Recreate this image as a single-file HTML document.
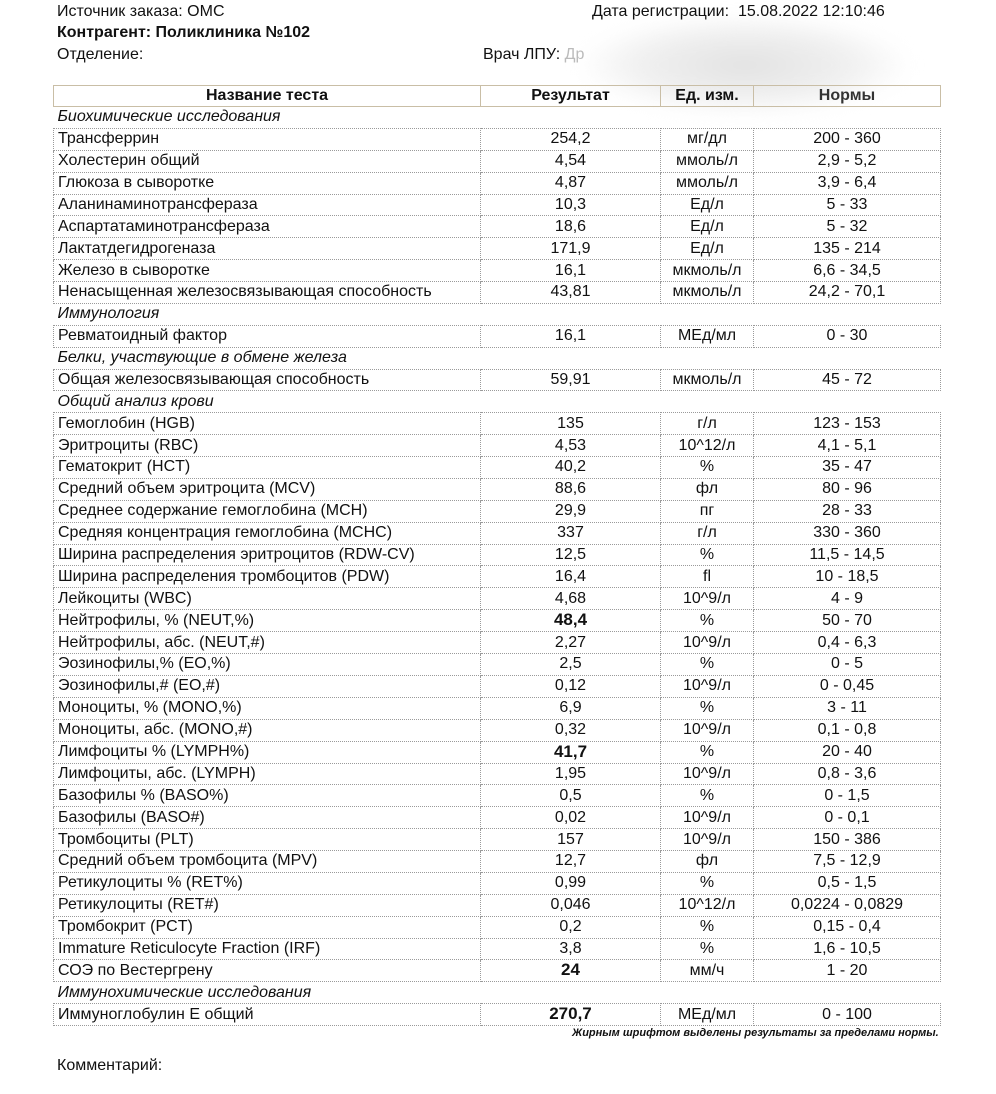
<!DOCTYPE html>
<html><head><meta charset="utf-8"><style>
body{margin:0;width:996px;height:1094px;background:#fff;position:relative;overflow:hidden;font-family:"Liberation Sans","Noto Sans CJK SC",sans-serif;color:#111;font-size:16px}
.t{position:absolute;white-space:nowrap}
table{position:absolute;left:53px;top:85px;width:887px;border-collapse:collapse;table-layout:fixed}
td{height:20.88px;padding:0 4px;border:1px dotted #9a9a9a;line-height:20px;overflow:hidden;white-space:nowrap}
td:nth-child(n+2){text-align:center}
tr.h td{border:1.5px solid #c9bea6;font-weight:bold;height:19px;text-align:center;font-size:16px}
tr.s td{border:none;font-style:italic;text-align:left;border-left:none}
b{font-size:17px}
.blur{position:absolute;left:580px;top:15px;width:330px;height:100px;background:radial-gradient(ellipse at center,#e2e2e2 0%,#f0f0f0 45%,rgba(255,255,255,0) 72%);filter:blur(8px)}
</style></head><body>
<div class="blur"></div>
<div class="t" style="left:57px;top:3px">Источник заказа: ОМС</div>
<div class="t" style="left:57px;top:24px;font-weight:bold">Контрагент: Поликлиника №102</div>
<div class="t" style="left:57px;top:46px">Отделение:</div>
<div class="t" style="left:592px;top:3px">Дата регистрации:&nbsp; 15.08.2022 12:10:46</div>
<div class="t" style="left:483px;top:46px">Врач ЛПУ: <span style="color:#bbb">Др</span></div>
<table>
<colgroup><col style="width:427px"><col style="width:180px"><col style="width:93px"><col style="width:187px"></colgroup>
<tr class="h"><td>Название теста</td><td>Результат</td><td>Ед. изм.</td><td style="color:#333">Нормы</td></tr>
<tr class="s"><td colspan="4">Биохимические исследования</td></tr>
<tr><td>Трансферрин</td><td>254,2</td><td>мг/дл</td><td>200 - 360</td></tr>
<tr><td>Холестерин общий</td><td>4,54</td><td>ммоль/л</td><td>2,9 - 5,2</td></tr>
<tr><td>Глюкоза в сыворотке</td><td>4,87</td><td>ммоль/л</td><td>3,9 - 6,4</td></tr>
<tr><td>Аланинаминотрансфераза</td><td>10,3</td><td>Ед/л</td><td>5 - 33</td></tr>
<tr><td>Аспартатаминотрансфераза</td><td>18,6</td><td>Ед/л</td><td>5 - 32</td></tr>
<tr><td>Лактатдегидрогеназа</td><td>171,9</td><td>Ед/л</td><td>135 - 214</td></tr>
<tr><td>Железо в сыворотке</td><td>16,1</td><td>мкмоль/л</td><td>6,6 - 34,5</td></tr>
<tr><td>Ненасыщенная железосвязывающая способность</td><td>43,81</td><td>мкмоль/л</td><td>24,2 - 70,1</td></tr>
<tr class="s"><td colspan="4">Иммунология</td></tr>
<tr><td>Ревматоидный фактор</td><td>16,1</td><td>МЕд/мл</td><td>0 - 30</td></tr>
<tr class="s"><td colspan="4">Белки, участвующие в обмене железа</td></tr>
<tr><td>Общая железосвязывающая способность</td><td>59,91</td><td>мкмоль/л</td><td>45 - 72</td></tr>
<tr class="s"><td colspan="4">Общий анализ крови</td></tr>
<tr><td>Гемоглобин (HGB)</td><td>135</td><td>г/л</td><td>123 - 153</td></tr>
<tr><td>Эритроциты (RBC)</td><td>4,53</td><td>10^12/л</td><td>4,1 - 5,1</td></tr>
<tr><td>Гематокрит (HCT)</td><td>40,2</td><td>%</td><td>35 - 47</td></tr>
<tr><td>Средний объем эритроцита (MCV)</td><td>88,6</td><td>фл</td><td>80 - 96</td></tr>
<tr><td>Среднее содержание гемоглобина (MCH)</td><td>29,9</td><td>пг</td><td>28 - 33</td></tr>
<tr><td>Средняя концентрация гемоглобина (MCHC)</td><td>337</td><td>г/л</td><td>330 - 360</td></tr>
<tr><td>Ширина распределения эритроцитов (RDW-CV)</td><td>12,5</td><td>%</td><td>11,5 - 14,5</td></tr>
<tr><td>Ширина распределения тромбоцитов (PDW)</td><td>16,4</td><td>fl</td><td>10 - 18,5</td></tr>
<tr><td>Лейкоциты (WBC)</td><td>4,68</td><td>10^9/л</td><td>4 - 9</td></tr>
<tr><td>Нейтрофилы, % (NEUT,%)</td><td><b>48,4</b></td><td>%</td><td>50 - 70</td></tr>
<tr><td>Нейтрофилы, абс. (NEUT,#)</td><td>2,27</td><td>10^9/л</td><td>0,4 - 6,3</td></tr>
<tr><td>Эозинофилы,% (EO,%)</td><td>2,5</td><td>%</td><td>0 - 5</td></tr>
<tr><td>Эозинофилы,# (EO,#)</td><td>0,12</td><td>10^9/л</td><td>0 - 0,45</td></tr>
<tr><td>Моноциты, % (MONO,%)</td><td>6,9</td><td>%</td><td>3 - 11</td></tr>
<tr><td>Моноциты, абс. (MONO,#)</td><td>0,32</td><td>10^9/л</td><td>0,1 - 0,8</td></tr>
<tr><td>Лимфоциты % (LYMPH%)</td><td><b>41,7</b></td><td>%</td><td>20 - 40</td></tr>
<tr><td>Лимфоциты, абс. (LYMPH)</td><td>1,95</td><td>10^9/л</td><td>0,8 - 3,6</td></tr>
<tr><td>Базофилы % (BASO%)</td><td>0,5</td><td>%</td><td>0 - 1,5</td></tr>
<tr><td>Базофилы (BASO#)</td><td>0,02</td><td>10^9/л</td><td>0 - 0,1</td></tr>
<tr><td>Тромбоциты (PLT)</td><td>157</td><td>10^9/л</td><td>150 - 386</td></tr>
<tr><td>Средний объем тромбоцита (MPV)</td><td>12,7</td><td>фл</td><td>7,5 - 12,9</td></tr>
<tr><td>Ретикулоциты % (RET%)</td><td>0,99</td><td>%</td><td>0,5 - 1,5</td></tr>
<tr><td>Ретикулоциты (RET#)</td><td>0,046</td><td>10^12/л</td><td>0,0224 - 0,0829</td></tr>
<tr><td>Тромбокрит (PCT)</td><td>0,2</td><td>%</td><td>0,15 - 0,4</td></tr>
<tr><td>Immature Reticulocyte Fraction (IRF)</td><td>3,8</td><td>%</td><td>1,6 - 10,5</td></tr>
<tr><td>СОЭ по Вестергрену</td><td><b>24</b></td><td>мм/ч</td><td>1 - 20</td></tr>
<tr class="s"><td colspan="4">Иммунохимические исследования</td></tr>
<tr><td>Иммуноглобулин Е общий</td><td><b>270,7</b></td><td>МЕд/мл</td><td>0 - 100</td></tr>
</table>
<div class="t" style="left:572px;top:1027px;font-size:11px;font-weight:bold;font-style:italic">Жирным шрифтом выделены результаты за пределами нормы.</div>
<div class="t" style="left:57px;top:1057px">Комментарий:</div>
</body></html>
